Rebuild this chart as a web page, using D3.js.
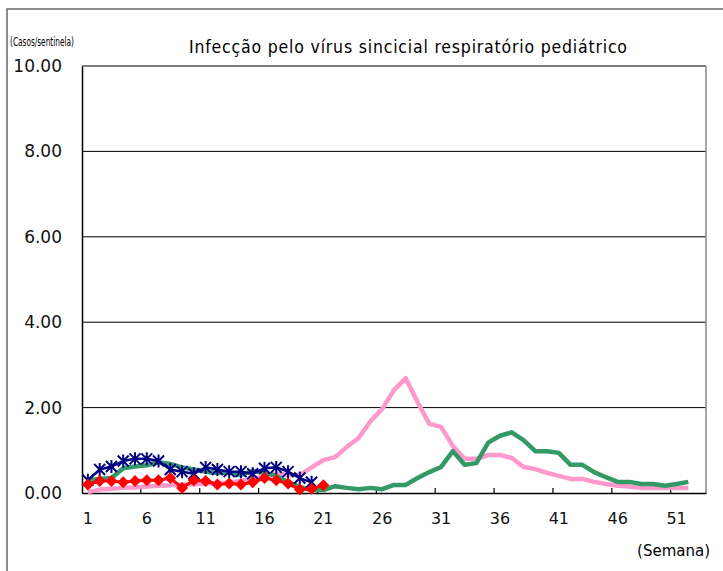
<!DOCTYPE html>
<html><head><meta charset="utf-8">
<script src="https://cdn.jsdelivr.net/npm/d3@7"></script>
<style>body{margin:0;background:#fff}svg{display:block}</style>
</head><body>
<script>
const weeks = d3.range(1, 54);               // categories 1..53
const tickLabels = [1,6,11,16,21,26,31,36,41,46,51];
const yTicks = [0,2,4,6,8,10];
const seriesPink = [0.02,0.08,0.10,0.12,0.13,0.15,0.17,0.18,0.20,0.20,0.22,0.23,0.24,0.28,0.32,0.40,0.45,0.42,0.42,0.60,0.77,0.84,1.08,1.29,1.68,1.97,2.41,2.69,2.13,1.62,1.55,1.10,0.80,0.80,0.89,0.89,0.82,0.61,0.56,0.47,0.40,0.33,0.33,0.26,0.21,0.17,0.15,0.12,0.12,0.12,0.12,0.12];
const seriesGreen = [0.30,0.33,0.35,0.58,0.62,0.65,0.72,0.68,0.60,0.55,0.50,0.47,0.48,0.42,0.52,0.47,0.40,0.26,0.14,0.07,0.07,0.16,0.12,0.09,0.12,0.09,0.19,0.19,0.35,0.49,0.61,0.98,0.66,0.70,1.18,1.34,1.42,1.24,0.98,0.98,0.94,0.66,0.66,0.49,0.37,0.26,0.26,0.21,0.21,0.17,0.21,0.26];
const seriesBlue = [0.30,0.55,0.62,0.75,0.80,0.80,0.75,0.55,0.50,0.45,0.60,0.55,0.50,0.50,0.45,0.58,0.60,0.50,0.35,0.25];
const seriesRed = [0.20,0.28,0.28,0.25,0.28,0.30,0.30,0.35,0.12,0.30,0.28,0.20,0.22,0.20,0.25,0.35,0.30,0.22,0.08,0.10,0.18];

const W = 723, H = 571;
const svg = d3.select("body").append("svg").attr("width", W).attr("height", H);
const L = 82, R = 706, T = 66, B = 493;
const x = d3.scaleBand().domain(weeks).range([L, R]).padding(0);
const y = d3.scaleLinear().domain([0, 10]).range([B, T]);
const cx = w => x(w) + x.bandwidth() / 2;

// outer frame
svg.append("path").attr("d", `M7,${H} L7,9 L${W},9`).attr("fill","none").attr("stroke","#666").attr("stroke-width",1.5);

// gridlines
svg.append("g").selectAll("line").data(yTicks.filter(d => d > 0)).join("line")
  .attr("x1", L).attr("x2", R).attr("y1", d => y(d)).attr("y2", d => y(d))
  .attr("stroke", "#000").attr("stroke-width", 1);
// right border
svg.append("line").attr("x1", R).attr("x2", R).attr("y1", T).attr("y2", B).attr("stroke", "#888").attr("stroke-width", 1.5);

// y axis
const yAxis = d3.axisLeft(y).tickValues(yTicks).tickSize(0).tickPadding(20).tickFormat(d3.format(".2f"));
const gy = svg.append("g").attr("transform", `translate(${L},0)`).call(yAxis);
gy.select(".domain").attr("stroke", "#000").attr("stroke-width", 1.5);
gy.selectAll("text").attr("font-family", "DejaVu Sans, sans-serif").attr("font-size", 17).attr("fill", "#111");

// x axis
const xAxis = d3.axisBottom(x).tickValues(tickLabels).tickSize(0).tickPadding(20);
const gx = svg.append("g").attr("transform", `translate(0,${B})`).call(xAxis);
gx.select(".domain").attr("stroke", "#000").attr("stroke-width", 1.5);
gx.selectAll("text").attr("font-family", "DejaVu Sans, sans-serif").attr("font-size", 16).attr("fill", "#111");
// inner tick marks between categories every 5
svg.append("g").selectAll("line").data(d3.range(5, 53, 5)).join("line")
  .attr("x1", d => x(d) + x.bandwidth()).attr("x2", d => x(d) + x.bandwidth())
  .attr("y1", B).attr("y2", B - 5).attr("stroke", "#000").attr("stroke-width", 1.2);

const line = d3.line().x((d, i) => cx(weeks[i])).y(d => y(d));

svg.append("path").datum(seriesPink).attr("d", line).attr("fill","none").attr("stroke","#FF99CC").attr("stroke-width",4.5).attr("stroke-linejoin","round");
svg.append("path").datum(seriesGreen).attr("d", line).attr("fill","none").attr("stroke","#339966").attr("stroke-width",4.5).attr("stroke-linejoin","round");

svg.append("path").datum(seriesBlue).attr("d", line).attr("fill","none").attr("stroke","#000080").attr("stroke-width",2.5);
const s = 5.5;
svg.append("g").selectAll("path").data(seriesBlue).join("path")
  .attr("transform", (d, i) => `translate(${cx(weeks[i])},${y(d)})`)
  .attr("d", `M${-s},${-s}L${s},${s}M${-s},${s}L${s},${-s}M0,${-s-1}L0,${s+1}`)
  .attr("stroke", "#000080").attr("stroke-width", 2);

svg.append("path").datum(seriesRed).attr("d", line).attr("fill","none").attr("stroke","#FF0000").attr("stroke-width",3);
const dm = 6;
svg.append("g").selectAll("path").data(seriesRed).join("path")
  .attr("transform", (d, i) => `translate(${cx(weeks[i])},${y(d)})`)
  .attr("d", `M0,${-dm}L${dm},0L0,${dm}L${-dm},0Z`)
  .attr("fill", "#FF0000");

// texts
svg.append("text").attr("x", 408).attr("y", 53).attr("text-anchor", "middle")
  .attr("font-family", "DejaVu Sans Condensed, DejaVu Sans, sans-serif").attr("font-size", 17.5)
  .attr("textLength", 438).attr("lengthAdjust", "spacing")
  .text("Infecção pelo vírus sincicial respiratório pediátrico");
svg.append("text").attr("x", 10).attr("y", 46)
  .attr("font-family", "Liberation Sans Narrow, DejaVu Sans Condensed, sans-serif").attr("font-size", 12)
  .attr("textLength", 64).attr("lengthAdjust", "spacingAndGlyphs")
  .text("(Casos/sentinela)");
svg.append("text").attr("x", 710).attr("y", 556).attr("text-anchor", "end")
  .attr("font-family", "DejaVu Sans, sans-serif").attr("font-size", 15)
  .text("(Semana)");
</script>
</body></html>
